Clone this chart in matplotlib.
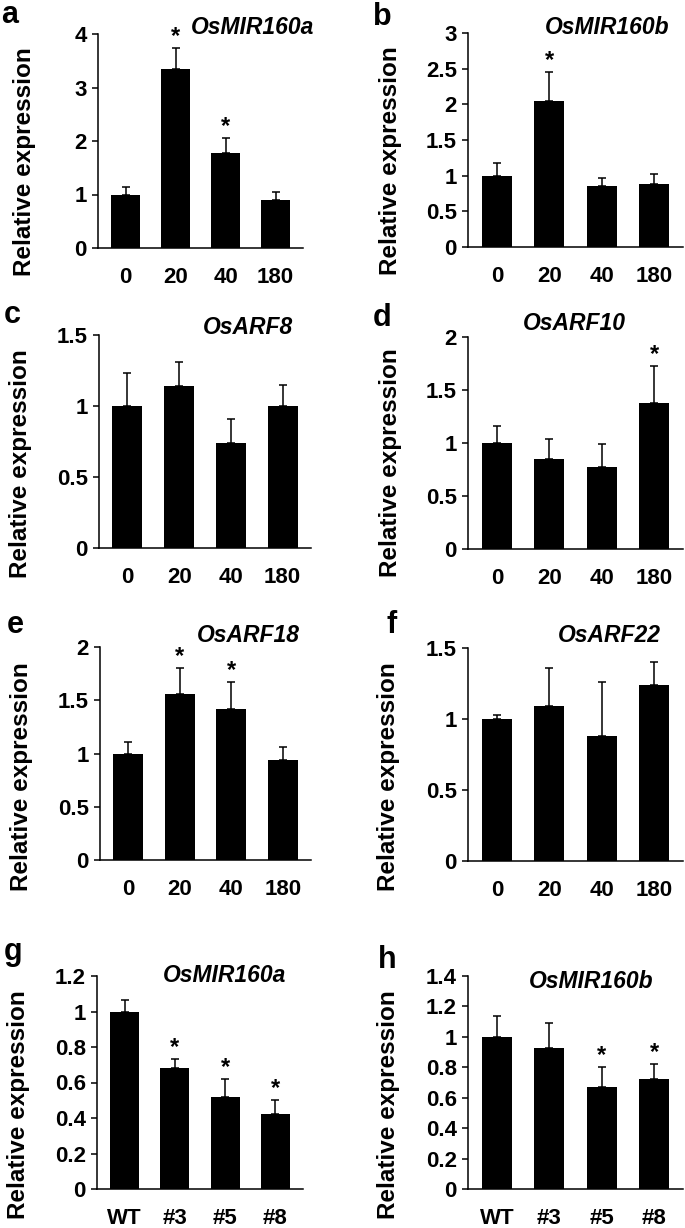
import matplotlib
matplotlib.use("Agg")
import matplotlib.pyplot as plt
import numpy as np

plt.rcParams['font.family'] = ['Liberation Sans', 'DejaVu Sans']
plt.rcParams['font.weight'] = 'bold'

# ---- data ----
time_labels = ['0', '20', '40', '180']
line_labels = ['WT', '#3', '#5', '#8']

a_mean = [1.00, 3.34, 1.77, 0.89]
a_err = [0.14, 0.39, 0.29, 0.16]
a_star = [False, True, True, False]

b_mean = [1.00, 2.05, 0.86, 0.88]
b_err = [0.18, 0.40, 0.11, 0.15]
b_star = [False, True, False, False]

c_mean = [1.00, 1.14, 0.74, 1.00]
c_err = [0.23, 0.17, 0.17, 0.15]
c_star = [False, False, False, False]

d_mean = [1.00, 0.85, 0.77, 1.38]
d_err = [0.16, 0.19, 0.22, 0.35]
d_star = [False, False, False, True]

e_mean = [1.00, 1.56, 1.42, 0.94]
e_err = [0.11, 0.24, 0.25, 0.12]
e_star = [False, True, True, False]

f_mean = [1.00, 1.09, 0.88, 1.24]
f_err = [0.03, 0.27, 0.38, 0.16]
f_star = [False, False, False, False]

g_mean = [1.00, 0.68, 0.52, 0.42]
g_err = [0.065, 0.05, 0.10, 0.08]
g_star = [False, True, True, True]

h_mean = [1.00, 0.93, 0.67, 0.72]
h_err = [0.14, 0.16, 0.13, 0.10]
h_star = [False, False, True, True]

W, H = 685, 1228
fig = plt.figure(figsize=(W / 100, H / 100), dpi=100)


def px_axes(l, t, r, b):
    return fig.add_axes([l / W, 1 - b / H, (r - l) / W, (b - t) / H])


def fig_text(x, y, s, **kw):
    fig.text(x / W, 1 - y / H, s, **kw)


panels = [
    # letter, gene, labels, mean, err, stars, ymax, yticks, rect, letter pos, gene pos, ylabel pos
    ('a', 'OsMIR160a', time_labels, a_mean, a_err, a_star, 4, [0, 1, 2, 3, 4],
     (98, 34, 303, 248), (10, 15), (191, 28), (25, 162)),
    ('b', 'OsMIR160b', time_labels, b_mean, b_err, b_star, 3, [0, 0.5, 1, 1.5, 2, 2.5, 3],
     (468, 33, 683, 247), (382, 17), (545, 28), (390, 161)),
    ('c', 'OsARF8', time_labels, c_mean, c_err, c_star, 1.5, [0, 0.5, 1, 1.5],
     (99, 335, 311, 548), (12, 315), (203, 327), (21, 464)),
    ('d', 'OsARF10', time_labels, d_mean, d_err, d_star, 2, [0, 0.5, 1, 1.5, 2],
     (468, 337, 683, 549), (382, 318), (523, 323), (390, 463)),
    ('e', 'OsARF18', time_labels, e_mean, e_err, e_star, 2, [0, 0.5, 1, 1.5, 2],
     (100, 647, 311, 860), (15, 625), (197, 635), (22, 777)),
    ('f', 'OsARF22', time_labels, f_mean, f_err, f_star, 1.5, [0, 0.5, 1, 1.5],
     (468, 648, 683, 861), (392, 625), (558, 635), (389, 777)),
    ('g', 'OsMIR160a', line_labels, g_mean, g_err, g_star, 1.2, [0, 0.2, 0.4, 0.6, 0.8, 1, 1.2],
     (97, 976, 303, 1189), (13, 952), (163, 975), (19, 1105)),
    ('h', 'OsMIR160b', line_labels, h_mean, h_err, h_star, 1.4, [0, 0.2, 0.4, 0.6, 0.8, 1, 1.2, 1.4],
     (468, 976, 683, 1189), (387, 960), (529, 982), (389, 1105)),
]

for (letter, gene, labels, mean, err, stars, ymax, yticks,
     rect, lpos, gpos, ypos) in panels:
    ax = px_axes(*rect)
    x = np.arange(len(labels))
    ax.bar(x, mean, width=0.58, color='black', zorder=2)
    ax.errorbar(x, mean, yerr=[np.zeros(len(mean)), err], fmt='none',
                ecolor='black', elinewidth=1.1, capsize=3, capthick=1.1, zorder=1)
    for xi, m, e, s in zip(x, mean, err, stars):
        if s:
            ax.annotate('*', (xi, m + e), xytext=(0, 0), textcoords='offset points',
                        ha='center', va='bottom', fontsize=17, fontweight='bold')
    ax.set_xlim(-0.55, 3.55)
    ax.set_ylim(0, ymax)
    ax.set_yticks(yticks)
    ax.set_yticklabels([('%g' % v) for v in yticks])
    ax.set_xticks(x)
    ax.set_xticklabels(labels)
    for sp in ['top', 'right']:
        ax.spines[sp].set_visible(False)
    for sp in ['left', 'bottom']:
        ax.spines[sp].set_linewidth(1.1)
    ax.tick_params(axis='y', direction='out', length=4, width=1.1, pad=4, labelsize=16)
    ax.tick_params(axis='x', length=0, pad=14, labelsize=16)
    for t in ax.get_xticklabels() + ax.get_yticklabels():
        t.set_fontweight('bold')

    fig_text(lpos[0], lpos[1], letter, fontsize=22, fontweight='bold', ha='center', va='center')
    fig_text(gpos[0], gpos[1], gene, fontsize=16.5, fontweight='bold', style='italic',
             ha='left', va='center')
    fig_text(ypos[0], ypos[1], 'Relative expression', fontsize=17.5, fontweight='bold',
             rotation=90, ha='center', va='center')

fig.savefig('out.png', dpi=100)
